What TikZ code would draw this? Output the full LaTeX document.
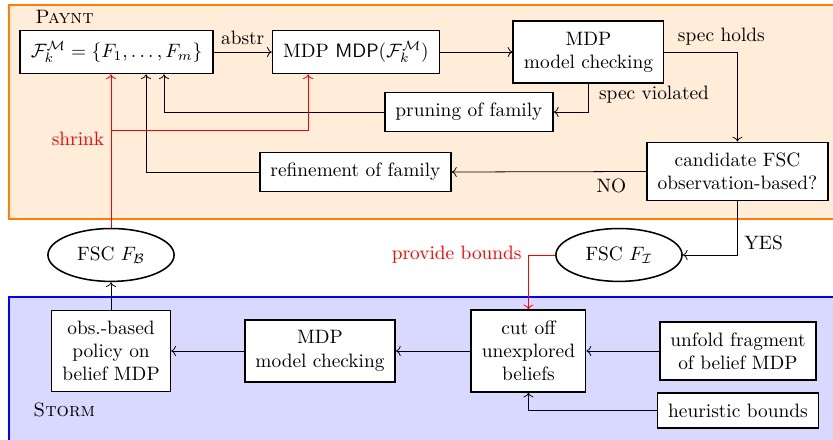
\documentclass[tikz,border=0pt]{standalone}
\usepackage{tikz}
\usetikzlibrary{shapes,shapes.geometric,positioning,calc,arrows.meta,arrows}
\usepackage{amsmath,amssymb}

\begin{document}
\begin{tikzpicture}[
    box/.style={rectangle,draw,thick,fill=white,align=center,inner sep=5.5pt},
    fsc/.style={ellipse,draw,thick,fill=white,inner sep=1pt,minimum width=2.29cm,minimum height=0.96cm},
    region/.style={rectangle,inner sep=0pt}
    ]
        \useasboundingbox (0,0) rectangle (15.12,-7.97);
        % tool regions
        \draw [semithick,draw=orange,fill=orange!15] (0.163,-0.091) rectangle (16.5,-3.975);
        \draw [semithick,draw=blue,fill=blue!15] (0.163,-5.391) rectangle (16.5,-8.5);
        \node [region,anchor=west](paynt) at (0.635,-0.31) {\textsc{Paynt}};
        \node [region,anchor=west](storm) at (0.6,-7.44) {\textsc{Storm}};

        \node [box](F) at (2.115,-0.944) {$\mathcal{F}_k^{\mathcal{M}} = \{F_1,\ldots,F_m\}$};
        \node [box](abs) at (6.461,-0.944) {MDP $\mathsf{MDP}(\mathcal{F}_k^{\mathcal{M}})$};
        \node [box](mc) at (10.681,-0.944) {MDP\\model checking};
        \node [box](prune) at (8.512,-2.033) {pruning of family};
        \node [box](refine) at (6.452,-3.122) {refinement of family};
        \node [box](cand) at (13.386,-3.113) {candidate FSC\\observation-based?};
        \node [fsc](FB) at (2.015,-4.628) {FSC $F_{\mathcal{B}}$};
        \node [fsc](FI) at (11.235,-4.628) {FSC $F_{\mathcal{I}}$};
        \node [box](obs) at (2.015,-6.371) {obs.-based\\policy on\\belief MDP};
        \node [box](mcb) at (5.808,-6.371) {MDP\\model checking};
        \node [box](cut) at (9.592,-6.371) {cut off\\unexplored\\beliefs};
        \node [box](unfold) at (13.395,-6.371) {unfold fragment\\of belief MDP};
        \node [box](heur) at (13.395,-7.451) {heuristic bounds};
        \coordinate (sh) at (2.015,-2.36);

        \draw [->] (F) edge node[above]{abstr} (abs);
        \draw [->] (abs) edge (mc);
        \draw [->] (mc.east) -| node[pos=0.39,above]{spec holds} (cand.north);
        \draw [->] (mc.south) |- (prune.east);
        \node [anchor=west] at (10.75,-1.72) {spec violated};
        \draw [->] (prune.west) -| ([xshift=0.862cm]F.south);
        \draw [->] (refine.west) -| ([xshift=0.535cm]F.south);
        \draw [->] (cand.west) -- node[pos=0.18,below]{NO} (refine.east);
        \draw [->] (cand.south) |- node[pos=0.39,right]{YES} (FI.east);
        \draw [->,red] (FI.west) -| node[pos=0.5,left]{provide bounds} (cut.north);
        \draw [->,red] (FB.north) -- node[pos=0.58,left]{shrink} (FB.north |- F.south);
        \draw [->,red] (sh) -| ([xshift=-0.87cm]abs.south);
        \draw [->] (obs) edge (FB);
        \draw [->] (mcb) edge (obs);
        \draw [->] (cut) edge (mcb);
        \draw [->] (unfold) edge (cut);
        \draw [->] (heur.west) -| (cut.south);
\end{tikzpicture}
\end{document}
